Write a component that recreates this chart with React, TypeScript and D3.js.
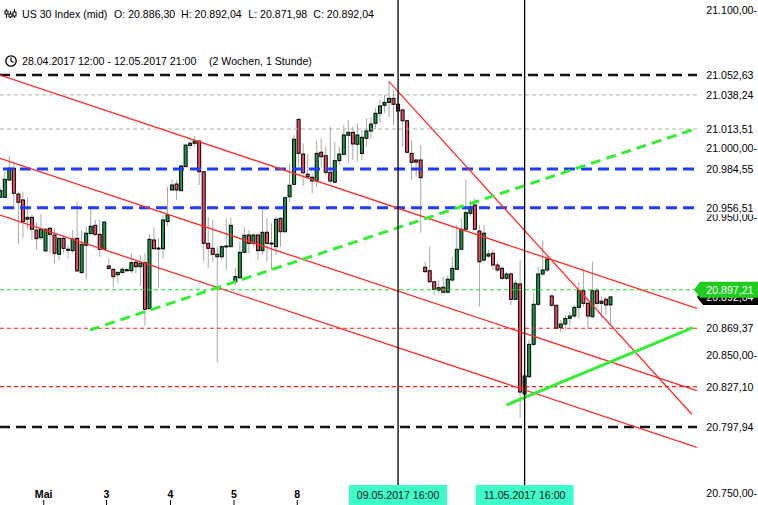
import { formatLocale, range, scaleLinear } from "d3";

// Stundenkerzen US 30 Index, 28.04. - 12.05.2017
const opens = [
  20964.1, 20964.1, 20976.6, 20985.1, 20966.5, 20962.2, 20948.2, 20949.6, 20940.4, 20934.9,
  20925.3, 20941.7, 20936.8, 20922.9, 20934.4, 20926.5, 20925.5, 20934.4, 20909.6, 20929.4,
  20937.8, 20943.8, 20937.3, 20926.5, 20914.4, 20912.0, 20908.1, 20909.6, 20911.3, 20911.0,
  20917.1, 20913.9, 20916.8, 20883.5, 20933.2, 20927.4, 20926.9, 20946.5, 20969.4, 20973.7,
  20968.9, 20986.3, 21001.7, 21003.2, 21004.8, 20982.6, 20930.8, 20927.2, 20922.9, 20921.1,
  20928.4, 20928.4, 20903.0, 20905.9, 20924.3, 20936.8, 20930.8, 20936.8, 20925.5, 20938.8,
  20931.0, 20928.4, 20948.9, 20939.2, 20964.5, 20973.5, 21020.5, 20995.4, 20980.8, 20975.9,
  20975.9, 20996.7, 20994.2, 20982.2, 20975.0, 20990.6, 20995.2, 21009.0, 21011.1, 21002.5,
  20995.9, 21006.8, 21012.1, 21017.7, 21024.9, 21030.7, 21032.8, 21035.7, 21031.4, 21027.3,
  21019.5, 20995.9, 20991.1, 20991.1, 20913.5, 20911.0, 20903.0, 20897.0, 20899.0, 20895.4,
  20904.3, 20912.0, 20926.5, 20941.0, 20952.5, 20958.5, 20939.7, 20918.7, 20921.6, 20923.6,
  20915.1, 20912.7, 20905.5, 20908.6, 20890.3, 20901.4, 20821.8, 20834.3, 20857.7, 20886.7,
  20908.6, 20911.5, 20892.7, 20886.0, 20870.0, 20872.4, 20876.5, 20878.2, 20884.5, 20896.5,
  20887.4, 20877.7, 20896.5, 20887.4, 20890.3, 20886.3,
];
const highs = [
  20970.8, 20982.6, 20994.0, 20989.9, 20968.2, 20968.2, 20964.1, 20952.0, 20945.7, 20952.0,
  20941.7, 20942.4, 20941.7, 20935.6, 20936.8, 20929.6, 20940.4, 20960.9, 20940.4, 20942.8,
  20956.2, 20947.7, 20947.7, 20946.5, 20920.0, 20912.7, 20910.3, 20913.7, 20913.0, 20923.6,
  20918.7, 20922.4, 20923.6, 20937.6, 20942.4, 20934.4, 20951.3, 20971.8, 20977.1, 20976.6,
  20987.1, 21002.2, 21005.6, 21008.5, 21005.6, 20982.9, 20949.6, 20947.7, 20928.4, 20929.6,
  20948.9, 20949.6, 20912.7, 20932.0, 20942.8, 20940.4, 20938.1, 20938.1, 20955.4, 20948.9,
  20945.3, 20950.1, 20949.6, 20964.5, 20988.7, 21009.2, 21020.8, 21003.2, 20995.4, 20981.5,
  21005.1, 21006.8, 21000.7, 21015.2, 21004.3, 21000.7, 21016.4, 21020.0, 21015.2, 21017.7,
  21012.8, 21021.3, 21022.0, 21028.5, 21034.5, 21038.1, 21047.8, 21041.8, 21039.4, 21028.5,
  21020.0, 21005.6, 20991.3, 21001.9, 20917.5, 20928.4, 20903.2, 20904.3, 20906.7, 20907.9,
  20921.1, 20944.1, 20948.9, 20977.1, 20962.2, 20963.4, 20944.1, 20944.1, 20926.0, 20926.0,
  20917.3, 20914.4, 20910.0, 20910.0, 20904.3, 20918.7, 20837.7, 20860.9, 20895.0, 20913.9,
  20932.7, 20921.6, 20894.1, 20886.2, 20875.3, 20878.9, 20881.1, 20886.2, 20903.0, 20912.0,
  20892.0, 20917.5, 20898.5, 20892.2, 20892.0, 20892.04,
];
const lows = [
  20963.6, 20963.8, 20976.2, 20954.9, 20930.1, 20934.9, 20941.0, 20933.2, 20926.0, 20933.2,
  20925.0, 20923.6, 20916.4, 20918.7, 20923.6, 20920.0, 20923.6, 20910.3, 20909.1, 20904.8,
  20937.3, 20935.6, 20921.1, 20926.2, 20911.5, 20898.7, 20901.9, 20909.3, 20910.0, 20909.1,
  20909.1, 20899.9, 20871.2, 20883.0, 20926.5, 20898.3, 20920.0, 20943.3, 20968.7, 20962.2,
  20968.6, 20986.0, 20998.8, 21000.7, 20973.0, 20917.5, 20912.7, 20917.5, 20844.7, 20918.7,
  20911.5, 20928.2, 20900.7, 20905.5, 20923.6, 20923.6, 20928.4, 20918.7, 20922.4, 20917.5,
  20911.5, 20922.4, 20928.4, 20939.0, 20960.9, 20973.0, 20986.3, 20972.3, 20977.9, 20967.0,
  20971.8, 20986.3, 20980.2, 20974.2, 20974.2, 20987.5, 20994.7, 20988.7, 20991.1, 20989.9,
  20991.1, 21000.7, 21006.8, 21013.3, 21017.7, 21024.9, 21022.4, 21016.4, 21020.0, 21000.7,
  20995.9, 20976.6, 20979.0, 20938.5, 20909.6, 20902.8, 20893.4, 20894.6, 20894.6, 20894.6,
  20903.0, 20911.5, 20926.0, 20940.4, 20950.1, 20940.4, 20884.9, 20917.5, 20920.2, 20911.5,
  20910.0, 20904.3, 20904.3, 20886.2, 20889.8, 20804.4, 20817.4, 20833.4, 20856.5, 20885.5,
  20907.2, 20910.0, 20884.7, 20868.8, 20866.6, 20868.1, 20871.0, 20876.8, 20876.8, 20884.7,
  20869.3, 20876.8, 20884.0, 20876.5, 20878.9, 20871.98,
];
const closes = [
  20968.9, 20977.1, 20985.1, 20967.0, 20960.5, 20946.5, 20949.6, 20941.0, 20934.2, 20941.0,
  20941.0, 20937.3, 20923.6, 20934.4, 20927.2, 20925.8, 20933.9, 20910.8, 20930.1, 20938.1,
  20943.1, 20937.3, 20926.5, 20946.2, 20912.7, 20906.7, 20909.8, 20912.0, 20911.7, 20916.8,
  20913.9, 20916.4, 20883.1, 20933.7, 20926.9, 20926.9, 20947.7, 20951.3, 20973.0, 20969.4,
  20986.8, 21001.9, 21003.2, 21004.8, 20982.6, 20930.8, 20927.2, 20922.9, 20921.1, 20928.4,
  20928.9, 20943.8, 20906.7, 20924.3, 20936.6, 20930.8, 20936.8, 20925.5, 20938.8, 20930.8,
  20930.3, 20948.2, 20939.2, 20963.8, 20972.8, 21006.1, 20995.9, 20981.9, 20979.0, 20978.6,
  20995.9, 20993.5, 20982.2, 20975.9, 20990.6, 20995.4, 21009.2, 21011.1, 21002.7, 21009.2,
  21007.5, 21012.1, 21017.1, 21024.9, 21030.2, 21032.8, 21035.7, 21031.4, 21026.6, 21019.5,
  20996.7, 20989.4, 20989.6, 20978.3, 20910.3, 20903.0, 20897.5, 20898.7, 20895.4, 20904.8,
  20912.7, 20926.5, 20941.0, 20953.0, 20957.3, 20941.0, 20917.5, 20938.1, 20923.1, 20915.1,
  20911.5, 20905.5, 20908.6, 20890.3, 20901.9, 20823.2, 20834.8, 20857.7, 20886.7, 20908.6,
  20911.5, 20919.2, 20886.0, 20869.3, 20872.4, 20876.5, 20878.2, 20884.5, 20896.5, 20887.4,
  20878.2, 20896.5, 20887.4, 20888.9, 20886.2, 20892.04,
];

// horizontale Marken
const levelPrices = [21052.63, 21038.24, 21013.51, 20984.55, 20956.51, 20897.21, 20869.37, 20827.1, 20797.94];
const levelKinds = ["black", "thin", "thin", "blue", "blue", "green", "red", "red", "black"];

// Trendlinien: [index0, kurs0, index1, kurs1]
const channelLines = [
  [-0.07, 21052.6, 154.1, 20883.8],
  [-0.07, 20992.3, 154.1, 20824.2],
  [-0.07, 20951.3, 154.1, 20783.2],
  [86, 21047.8, 153.0, 20807.1],
];
const greenDashedLine = [19.85, 20868.1, 153.0, 21012.8];
const greenSolidLine = [112.0, 20813.8, 153.2, 20869.75];

const yTicks = range(20750, 21101, 50);
const dayLabels = ["Mai", "3", "4", "5", "8"];
const dayIndex = [9.6, 23.5, 37.65, 51.7, 65.7];
const markerLabels = ["09.05.2017 16:00", "11.05.2017 16:00"];
const markerIndex = [88, 116];

const headerParts = ["US 30 Index (mid)", "O: 20.886,30", "H: 20.892,04", "L: 20.871,98", "C: 20.892,04"];
const lastPrice = 20897.21;
const closePrice = 20892.04;

const levelStyle: Record<string, { stroke: string; width: number; dash: string }> = {
  black: { stroke: "#111", width: 2.6, dash: "10,6" },
  thin: { stroke: "#a4b4a4", width: 1, dash: "4,3" },
  blue: { stroke: "#1f3cff", width: 3, dash: "11,6" },
  green: { stroke: "#1de01d", width: 1.2, dash: "4,3" },
  red: { stroke: "#ff1a1a", width: 1.2, dash: "4,3" },
};

const de = formatLocale({ decimal: ",", thousands: ".", grouping: [3], currency: ["", ""] });
const fmt = de.format(",.2f");

const font = "'Liberation Sans', Arial, sans-serif";
const plotRight = 697;

const App = () => {
  const xScale = scaleLinear().domain([0, 135]).range([0.3, 610.5]);
  const yScale = scaleLinear().domain([20750, 21100]).range([493.2, 9.5]);

  const headerX = [22, 114, 181, 248.3, 313.3];

  // Achsenbeschriftungen, die unter einer Preismarke liegen, bleiben weg
  const covered = [...levelPrices, lastPrice];
  const visibleTicks = yTicks.filter((t) => !covered.some((p) => Math.abs(yScale(p) - yScale(t)) < 6));

  const tag = (price: number, fill: string, dx: number) => {
    const y = yScale(price);
    const left = 694 + dx;
    return (
      <g>
        <path
          d={`M${left},${y} L${left + 6},${y - 8} L758,${y - 8} L758,${y + 8} L${left + 6},${y + 8} Z`}
          fill={fill}
        />
        <text x={753.5} y={y + 4} textAnchor="end" fill="#fff" fontSize={10.6}>
          {fmt(price)}
        </text>
      </g>
    );
  };

  return (
    <>
      <style>{"body{margin:0}"}</style>
      <svg width={758} height={505} style={{ display: "block", fontFamily: font }}>
        <rect width={758} height={505} fill="#fff" />
        <defs>
          <clipPath id="plot">
            <rect x={0} y={0} width={plotRight} height={486} />
          </clipPath>
        </defs>

        {/* Kerzen */}
        <g>
          {opens.map((o, i) => {
            const cx = xScale(i);
            return (
              <line key={`w${i}`} x1={cx} x2={cx} y1={yScale(highs[i])} y2={yScale(lows[i])} stroke="#a8a8a8" strokeWidth={1} />
            );
          })}
          {opens.map((o, i) => {
            const c = closes[i];
            const cx = xScale(i);
            const top = yScale(Math.max(o, c));
            const h = Math.max(1, Math.abs(yScale(o) - yScale(c)));
            return (
              <rect
                key={`b${i}`}
                x={cx - 1.5}
                y={top}
                width={3}
                height={h}
                fill={c >= o ? "#1d9a45" : "#f04a5e"}
                stroke="#000"
                strokeWidth={1}
              />
            );
          })}
        </g>

        {/* horizontale Linien */}
        {levelPrices.map((p, i) => {
          const s = levelStyle[levelKinds[i]];
          return (
            <line
              key={`l${i}`}
              x1={levelKinds[i] === "blue" ? 3 : 0}
              x2={plotRight}
              y1={yScale(p)}
              y2={yScale(p)}
              stroke={s.stroke}
              strokeWidth={s.width}
              strokeDasharray={s.dash}
            />
          );
        })}

        {/* Trendlinien */}
        <g clipPath="url(#plot)">
          {channelLines.map((l, i) => (
            <line
              key={`t${i}`}
              x1={xScale(l[0])}
              y1={yScale(l[1])}
              x2={xScale(l[2])}
              y2={yScale(l[3])}
              stroke="#ff2b2b"
              strokeWidth={1.3}
            />
          ))}
          <line
            x1={xScale(greenDashedLine[0])}
            y1={yScale(greenDashedLine[1])}
            x2={xScale(greenDashedLine[2])}
            y2={yScale(greenDashedLine[3])}
            stroke="#33ee33"
            strokeWidth={3}
            strokeDasharray="10,6"
          />
          <line
            x1={xScale(greenSolidLine[0])}
            y1={yScale(greenSolidLine[1])}
            x2={xScale(greenSolidLine[2])}
            y2={yScale(greenSolidLine[3])}
            stroke="#33ee33"
            strokeWidth={3}
          />
        </g>

        {/* senkrechte Marker */}
        {markerIndex.map((m, i) => (
          <line key={`m${i}`} x1={xScale(m)} x2={xScale(m)} y1={0} y2={486} stroke="#000" strokeWidth={1.3} />
        ))}

        {/* Kopfzeile */}
        <g stroke="#000" strokeWidth={1} fill="none">
          <line x1={6.5} x2={6.5} y1={9} y2={18} />
          <rect x={5} y={11} width={3} height={3} fill="#fff" />
          <line x1={10.5} x2={10.5} y1={11} y2={18} />
          <rect x={9} y={14} width={3} height={3} fill="#fff" />
          <line x1={14.5} x2={14.5} y1={9} y2={18} />
          <rect x={13} y={12} width={3} height={4} fill="#fff" />
          <circle cx={11} cy={61} r={5.2} strokeWidth={1.3} />
          <polyline points="11,57.5 11,61 13.5,62.5" strokeWidth={1.2} />
        </g>
        <g fontSize={10.6} fill="#000">
          {headerParts.map((t, i) => (
            <text key={`h${i}`} x={headerX[i]} y={17.5}>
              {t}
            </text>
          ))}
          <text x={22} y={65}>28.04.2017 12:00 - 12.05.2017 21:00</text>
          <text x={209} y={65}>(2 Wochen, 1 Stunde)</text>
        </g>

        {/* Preisachse */}
        <g fontSize={10.6} fill="#000">
          {visibleTicks.map((t) => (
            <text key={`y${t}`} x={757} y={yScale(t) + 4} textAnchor="end">
              {fmt(t)}-
            </text>
          ))}
          {levelPrices.map((p, i) => (
            <g key={`lt${i}`}>
              <rect x={701} y={yScale(p) - 6.5} width={57} height={13} fill="#fff" />
              <text x={753.5} y={yScale(p) + 4} textAnchor="end">
                {fmt(p)}
              </text>
            </g>
          ))}
        </g>
        {tag(closePrice, "#000", 3)}
        {tag(lastPrice, "#1fcc1f", 0)}

        {/* Zeitachse */}
        <g fontSize={10.6} fill="#000">
          {dayLabels.map((d, i) => (
            <g key={`d${i}`}>
              <text x={xScale(dayIndex[i])} y={497.5} textAnchor="middle" fontWeight="bold">
                {d}
              </text>
              <line x1={xScale(dayIndex[i])} x2={xScale(dayIndex[i])} y1={500} y2={505} stroke="#000" />
            </g>
          ))}
          {markerIndex.map((m, i) => (
            <g key={`ml${i}`}>
              <rect x={xScale(m) - 49} y={485} width={98} height={20} fill="#3dfcc9" />
              <text x={xScale(m)} y={499} textAnchor="middle" fill="#111">
                {markerLabels[i]}
              </text>
            </g>
          ))}
        </g>
      </svg>
    </>
  );
};

export default App;
